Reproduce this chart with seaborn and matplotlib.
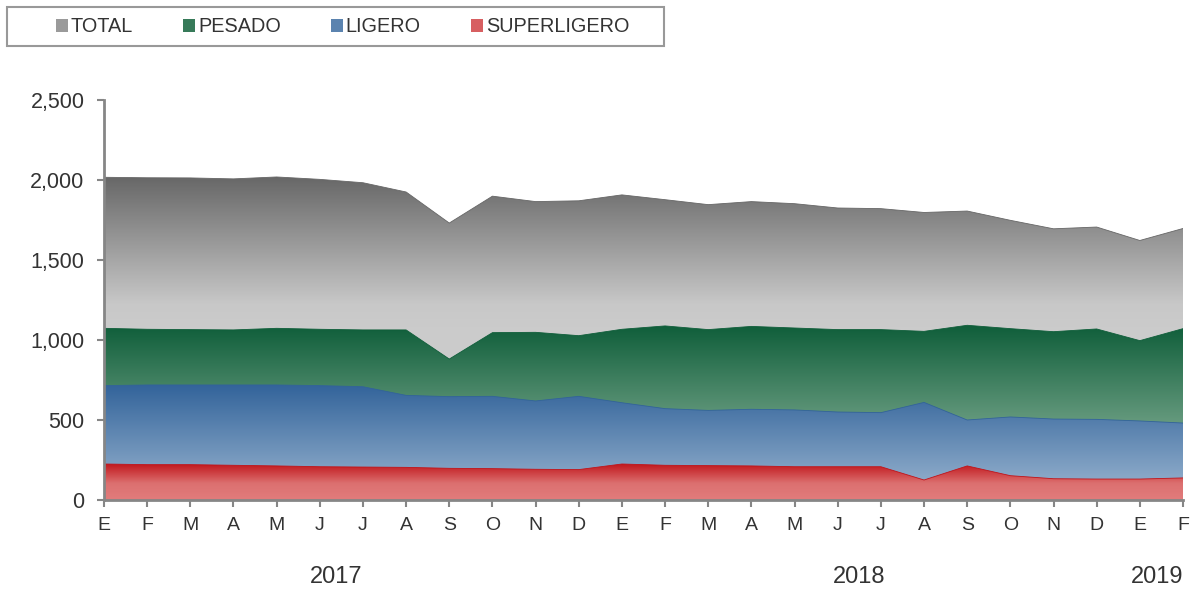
import numpy as np
import pandas as pd
import matplotlib
matplotlib.use("Agg")
import matplotlib.pyplot as plt
import seaborn as sns
from matplotlib.colors import LinearSegmentedColormap
from matplotlib.patches import Patch, Rectangle
from matplotlib.ticker import FuncFormatter

# data (E 2017 .. F 2019)
months = ["E", "F", "M", "A", "M", "J", "J", "A", "S", "O", "N", "D",
          "E", "F", "M", "A", "M", "J", "J", "A", "S", "O", "N", "D",
          "E", "F"]
total = [2017, 2014, 2013, 2007, 2019, 2004, 1983, 1925, 1731, 1899, 1865, 1870,
         1907, 1877, 1846, 1865, 1852, 1825, 1821, 1797, 1806, 1748, 1695, 1706,
         1622, 1697]
pesado = [1073, 1067, 1065, 1063, 1073, 1067, 1063, 1063, 881, 1046, 1048, 1027,
          1067, 1088, 1065, 1085, 1075, 1065, 1065, 1054, 1092, 1071, 1052, 1069,
          996, 1071]
ligero = [715, 719, 719, 719, 719, 715, 708, 654, 646, 648, 619, 648,
          608, 571, 560, 567, 563, 550, 546, 610, 500, 519, 506, 504,
          494, 481]
superligero = [225, 221, 221, 217, 213, 208, 206, 204, 198, 196, 192, 190,
               225, 217, 215, 213, 208, 208, 208, 125, 213, 152, 133, 131,
               131, 138]
years = ["2017", "2018", "2019"]
year_pos = [5.38, 17.49, 24.4]

df = pd.DataFrame({"x": np.arange(len(months)), "TOTAL": total, "PESADO": pesado,
                   "LIGERO": ligero, "SUPERLIGERO": superligero})

series = [
    ("TOTAL", (1080, 2030), [(0, "#cbcbcb"), (0.15, "#c8c8c8"), (1, "#666666")]),
    ("PESADO", (470, 1095), [(0, "#679b7f"), (1, "#0f5e3a")]),
    ("LIGERO", (120, 725), [(0, "#8caac9"), (1, "#32639a")]),
    ("SUPERLIGERO", (0, 228), [(0, "#e27c7c"), (0.45, "#dc7070"), (1, "#c0141a")]),
]

sns.set_style("white")
plt.rcParams["font.family"] = ["Liberation Sans", "DejaVu Sans"]
text_col = "#333333"
axis_col = "#868686"

fig = plt.figure(figsize=(11.92, 5.92), dpi=100)
ax = fig.add_axes([104 / 1192, 92 / 592, 1079 / 1192, 400 / 592])

n = len(months) - 1
handles = []
for name, (lo, hi), stops in series:
    cmap = LinearSegmentedColormap.from_list(name, stops)
    poly = ax.fill_between(df["x"], 0, df[name], color="none", lw=0)
    grad = np.linspace(0, 1, 256).reshape(-1, 1)
    im = ax.imshow(grad, extent=[0, n, lo, hi], origin="lower", aspect="auto",
                   cmap=cmap, interpolation="bilinear")
    im.set_clip_path(poly.get_paths()[0], transform=ax.transData)
    # under the visible gradient, extend lowest colour down to 0
    if lo > 0:
        low = ax.imshow(np.zeros((2, 1)), extent=[0, n, 0, lo], origin="lower",
                        aspect="auto", cmap=cmap, vmin=0, vmax=1)
        low.set_clip_path(poly.get_paths()[0], transform=ax.transData)
    sns.lineplot(data=df, x="x", y=name, ax=ax, color=cmap(1.0), lw=0.6)
    handles.append(Patch(facecolor=cmap(0.55), edgecolor="none", label=name))

ax.set_xlim(0, n)
ax.set_ylim(0, 2500)
ax.set_xlabel("")
ax.set_ylabel("")
ax.set_xticks(range(len(months)))
ax.set_xticklabels(months)
ax.set_yticks(range(0, 2501, 500))
ax.yaxis.set_major_formatter(FuncFormatter(lambda v, p: f"{int(v):,}"))

for s in ["top", "right"]:
    ax.spines[s].set_visible(False)
for s in ["left", "bottom"]:
    ax.spines[s].set_color(axis_col)
    ax.spines[s].set_linewidth(2)
    ax.spines[s].set_zorder(5)

ax.tick_params(axis="y", direction="out", length=5, width=1.5, color=axis_col,
               labelsize=15.5, labelcolor=text_col, pad=9, left=True)
ax.tick_params(axis="x", direction="out", length=5, width=1.5, color=axis_col,
               labelsize=14, labelcolor=text_col, pad=7, bottom=True)

for yr, xp in zip(years, year_pos):
    ax.text(xp, -0.193, yr, transform=ax.get_xaxis_transform(), ha="center",
            va="center", fontsize=17, color=text_col)

# legend frame drawn separately, entries placed inside it
fig.patches.append(Rectangle((7 / 1192, 1 - 46 / 592), 657 / 1192, 39 / 592,
                             transform=fig.transFigure, facecolor="white",
                             edgecolor="#999999", lw=1.5))
fig.legend(handles=handles, loc="center left", ncol=4,
           bbox_to_anchor=(56 / 1192, 1 - 27 / 592), borderaxespad=0,
           borderpad=0, frameon=False, fontsize=14.3, handlelength=0.58,
           handleheight=0.58, handletextpad=0.15, columnspacing=2.55,
           labelcolor=text_col)

fig.savefig("out.png", dpi=100)
